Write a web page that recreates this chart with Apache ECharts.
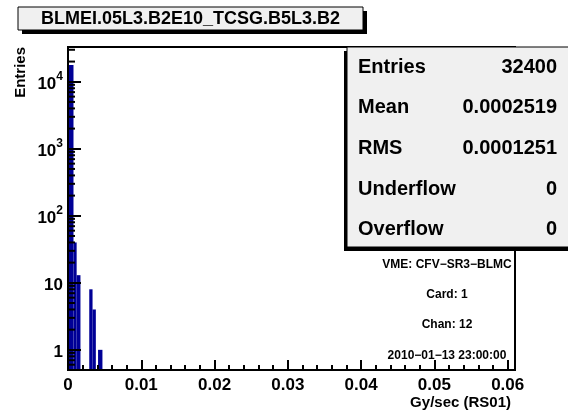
<!DOCTYPE html>
<html>
<head>
<meta charset="utf-8">
<script src="https://cdn.jsdelivr.net/npm/echarts@6/dist/echarts.min.js"></script>
<style>
html,body{margin:0;padding:0;background:#fff}
#main{width:568px;height:412px}
</style>
</head>
<body>
<div id="main"></div>
<script>
// histogram bins: lower edge, upper edge, entries
var binLo  = [0,       0.00075, 0.00118, 0.0029,  0.00335, 0.0041];
var binHi  = [0.00075, 0.00118, 0.0017,  0.00335, 0.0038,  0.0047];
var counts = [17800,   40,      13,      8,       4,       1];

var titleText = 'BLMEI.05L3.B2E10_TCSG.B5L3.B2';
var statNames  = ['Entries', 'Mean', 'RMS', 'Underflow', 'Overflow'];
var statValues = ['32400', '0.0002519', '0.0001251', '0', '0'];
var infoLines  = ['VME: CFV\u2212SR3\u2212BLMC', 'Card: 1', 'Chan: 12', '2010\u221201\u221213 23:00:00'];

// log axis decades / minor multipliers
var decades = [0.1, 1, 10, 100, 1000, 10000];
var minorMult = [2, 3, 4, 5, 6, 7, 8, 9];
var yMin = 0.5, yMax = 33000;

var FONT = '"Liberation Sans", Arial, Helvetica, sans-serif';
var BLUE = '#000096';

var histData = [];
for (var i = 0; i < counts.length; i++) {
	histData.push([binLo[i], binHi[i], counts[i]]);
}
var minorData = [];
for (var d = 0; d < decades.length; d++) {
	for (var m = 0; m < minorMult.length; m++) {
		var v = decades[d] * minorMult[m];
		if (v > yMin && v < yMax) minorData.push([0, v]);
	}
}

var myChart = echarts.init(document.getElementById('main'));

function yLabel(v) {
	var e = Math.round(Math.log(v) / Math.LN10);
	if (Math.abs(Math.pow(10, e) - v) > 1e-6 * v) return '';
	if (e == 0) return '{b|1}';
	if (e == 1) return '{b|10}';
	return '{b|10}{s|' + e + '}';
}

var graphics = [];
// title box
graphics.push({type:'rect', shape:{x:22, y:11, width:345, height:23}, style:{fill:'#000'}, z:100});
graphics.push({type:'rect', shape:{x:18, y:7, width:345, height:23}, style:{fill:'#f0f0f0', stroke:'#000', lineWidth:1}, z:101});
graphics.push({type:'text', x:190.5, y:19, style:{text:titleText, font:'bold 18px ' + FONT, fill:'#000', align:'center', verticalAlign:'middle'}, z:102});
// stats box
graphics.push({type:'rect', shape:{x:344, y:51, width:230, height:200}, style:{fill:'#000'}, z:100});
graphics.push({type:'rect', shape:{x:347, y:47, width:230, height:200}, style:{fill:'#f0f0f0', stroke:'#000', lineWidth:1}, z:101});
for (var s = 0; s < statNames.length; s++) {
	var ty = 67 + s * 40.7;
	graphics.push({type:'text', x:358, y:ty, style:{text:statNames[s], font:'bold 20px ' + FONT, fill:'#000', align:'left', verticalAlign:'middle'}, z:102});
	graphics.push({type:'text', x:557, y:ty, style:{text:statValues[s], font:'bold 20px ' + FONT, fill:'#000', align:'right', verticalAlign:'middle'}, z:102});
}
// info text
var infoY = [265, 295, 325, 356];
for (var k = 0; k < infoLines.length; k++) {
	graphics.push({type:'text', x:447, y:infoY[k], style:{text:infoLines[k], font:'bold 12px ' + FONT, fill:'#000', align:'center', verticalAlign:'middle'}, z:102});
}
// axis titles
graphics.push({type:'text', x:21, y:47, rotation:Math.PI / 2, style:{text:'Entries', font:'bold 15px ' + FONT, fill:'#000', align:'right', verticalAlign:'middle'}, z:102});
graphics.push({type:'text', x:511, y:403, style:{text:'Gy/sec (RS01)', font:'bold 15px ' + FONT, fill:'#000', align:'right', verticalAlign:'middle'}, z:102});

var option = {
	animation: false,
	backgroundColor: '#fff',
	grid: {
		left: 68, top: 47, width: 447, height: 323,
		show: true, borderColor: '#000', borderWidth: 2,
		containLabel: false, outerBoundsMode: 'none'
	},
	xAxis: {
		type: 'value', min: 0, max: 0.061, interval: 0.01,
		z: 10,
		axisLine: {show: true, lineStyle: {color: '#000', width: 2}},
		axisTick: {show: true, inside: true, length: 10, lineStyle: {color: '#000', width: 2}},
		minorTick: {show: true, splitNumber: 5, length: 5, lineStyle: {color: '#000', width: 2}},
		splitLine: {show: false},
		axisLabel: {show: true, showMaxLabel: false, margin: 7, color: '#000', fontFamily: FONT, fontWeight: 'bold', fontSize: 17}
	},
	yAxis: {
		type: 'log', min: yMin, max: yMax, logBase: 10,
		z: 10,
		axisLine: {show: true, lineStyle: {color: '#000', width: 2}},
		axisTick: {show: true, inside: true, length: 13, lineStyle: {color: '#000', width: 2}},
		splitLine: {show: false},
		axisLabel: {
			show: true, margin: 5, formatter: yLabel,
			rich: {
				b: {color: '#000', fontFamily: FONT, fontWeight: 'bold', fontSize: 17, lineHeight: 22, verticalAlign: 'bottom'},
				s: {color: '#000', fontFamily: FONT, fontWeight: 'bold', fontSize: 12, lineHeight: 22, verticalAlign: 'top'}
			}
		}
	},
	series: [{
		type: 'custom',
		name: 'hist',
		z: 2,
		encode: {x: [0, 1], y: 2},
		renderItem: function (params, api) {
			var p1 = api.coord([api.value(0), api.value(2)]);
			var p2 = api.coord([api.value(1), yMin]);
			return {
				type: 'rect',
				shape: {x: p1[0], y: p1[1], width: p2[0] - p1[0], height: p2[1] - p1[1]},
				style: {fill: BLUE}
			};
		},
		data: histData
	}, {
		type: 'custom',
		name: 'yMinorTicks',
		z: 20,
		silent: true,
		encode: {x: 0, y: 1},
		renderItem: function (params, api) {
			var p = api.coord([0, api.value(1)]);
			return {
				type: 'line',
				shape: {x1: p[0], y1: p[1], x2: p[0] + 7, y2: p[1]},
				style: {stroke: '#000', lineWidth: 2}
			};
		},
		data: minorData
	}],
	graphic: graphics
};
myChart.setOption(option, true);
</script>
</body>
</html>
